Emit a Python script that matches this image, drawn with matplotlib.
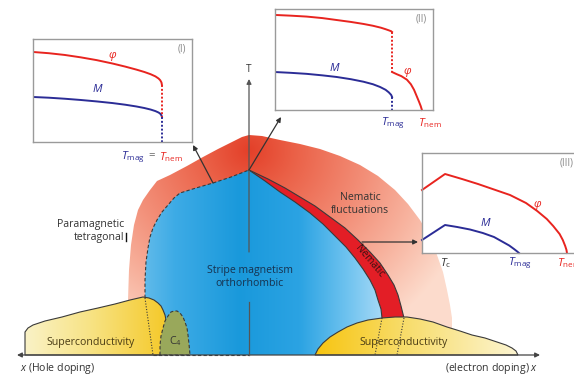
import numpy as np
import matplotlib
matplotlib.use("Agg")
import matplotlib.pyplot as plt
from matplotlib.patches import Polygon

plt.rcParams['font.family'] = ['Open Sans', 'DejaVu Sans']
plt.rcParams['mathtext.fontset'] = 'custom'
plt.rcParams['mathtext.rm'] = 'Open Sans'
plt.rcParams['mathtext.it'] = 'Open Sans:italic'

W, H = 574, 375

# ---- phase boundaries of the schematic diagram (x: doping, y: temperature, screen units) ----
fluct_x = [128, 128, 129, 131, 134, 138, 143, 150, 157, 170, 187, 203, 218, 232, 242, 249,
           262, 280, 300, 320, 340, 360, 378, 395, 408, 420, 430, 437, 443, 447, 450, 452, 452, 128]
fluct_y = [340, 300, 270, 245, 225, 210, 200, 190, 181, 175, 166, 157, 149, 142, 137, 135,
           136, 140, 144, 149, 156, 165, 176, 190, 204, 220, 237, 255, 272, 290, 305, 318, 340, 340]

mag_left_x = [153, 145, 145, 146, 148, 150, 153, 157, 162, 168, 174, 180, 196, 213, 231, 249]
mag_left_y = [355, 298, 280, 262, 248, 237, 228, 220, 212, 205, 198, 193, 188, 183, 177, 170]

mag_right_x = [249, 265, 280, 295, 310, 323, 335, 346, 355, 363, 370, 375, 378, 381, 382, 375]
mag_right_y = [170, 181, 192, 202, 213, 224, 236, 247, 258, 269, 280, 290, 300, 309, 318, 355]

nem_right_x = [249, 268, 285, 300, 315, 330, 345, 358, 370, 380, 388, 394, 398, 401, 404]
nem_right_y = [170, 179, 188, 197, 206, 217, 228, 240, 252, 263, 275, 285, 295, 306, 318]

sc_left_x = [25, 25, 28, 33, 45, 62, 80, 98, 115, 130, 143, 149, 154, 158, 161, 163, 165, 166, 165, 163, 160]
sc_left_y = [355, 332, 328, 325, 321, 317, 312, 308, 304, 300, 297, 298, 300, 303, 306, 310, 315, 320, 330, 342, 355]

c4_x = [160, 160, 161, 163, 165, 168, 171, 174, 177, 180, 183, 185, 187, 188, 189, 190]
c4_y = [355, 345, 336, 328, 321, 316, 312, 311, 311, 313, 317, 322, 328, 335, 344, 355]

sc_right_x = [315, 318, 323, 330, 338, 347, 357, 368, 382, 395, 407, 420, 433, 447, 460, 472, 485, 497, 506, 512, 516, 518]
sc_right_y = [355, 349, 343, 337, 332, 327, 323, 320, 318, 317, 317, 319, 322, 327, 331, 335, 338, 342, 345, 348, 351, 355]

sc_left_cut = ([145, 153], [298, 355])
sc_right_cut_mag = ([382, 375], [318, 355])
sc_right_cut_nem = ([404, 397], [318, 355])

# ---- order parameters in the three insets (x: temperature, y: magnitude, axes fraction) ----
in1_phi_x = [0.0, 0.10, 0.20, 0.30, 0.40, 0.50, 0.58, 0.65, 0.70, 0.74, 0.77, 0.79, 0.80, 0.808, 0.811]
in1_phi_y = [0.874, 0.862, 0.845, 0.822, 0.795, 0.762, 0.732, 0.703, 0.680, 0.658, 0.637, 0.616, 0.600, 0.578, 0.553]
in1_m_x = [0.0, 0.10, 0.20, 0.30, 0.40, 0.50, 0.58, 0.65, 0.70, 0.74, 0.77, 0.79, 0.80, 0.808, 0.811]
in1_m_y = [0.437, 0.430, 0.420, 0.408, 0.394, 0.378, 0.362, 0.345, 0.330, 0.315, 0.300, 0.286, 0.275, 0.258, 0.243]

in2_phi_x = [0.0, 0.10, 0.20, 0.30, 0.39, 0.48, 0.56, 0.62, 0.67, 0.70, 0.72, 0.735, 0.741]
in2_phi_y = [0.941, 0.934, 0.925, 0.910, 0.891, 0.872, 0.852, 0.834, 0.815, 0.800, 0.789, 0.780, 0.772]
in2_phi2_x = [0.741, 0.77, 0.80, 0.835, 0.86, 0.88, 0.899, 0.912, 0.922, 0.930]
in2_phi2_y = [0.376, 0.355, 0.335, 0.300, 0.255, 0.200, 0.129, 0.080, 0.040, 0.0]
in2_m_x = [0.0, 0.10, 0.20, 0.30, 0.39, 0.48, 0.56, 0.62, 0.665, 0.70, 0.72, 0.735, 0.741]
in2_m_y = [0.376, 0.368, 0.358, 0.343, 0.327, 0.305, 0.280, 0.255, 0.228, 0.200, 0.175, 0.150, 0.129]

in3_phi_x = [0.0, 0.144, 0.25, 0.35, 0.45, 0.55, 0.65, 0.72, 0.78, 0.82, 0.86, 0.88, 0.895, 0.903, 0.906]
in3_phi_y = [0.63, 0.79, 0.74, 0.69, 0.635, 0.58, 0.50, 0.42, 0.34, 0.27, 0.19, 0.13, 0.07, 0.03, 0.0]
in3_m_x = [0.0, 0.144, 0.22, 0.30, 0.38, 0.45, 0.506, 0.545, 0.575, 0.595, 0.606]
in3_m_y = [0.13, 0.28, 0.26, 0.235, 0.20, 0.16, 0.11, 0.075, 0.04, 0.015, 0.0]

# inset frames in screen units: left, top, right, bottom
inset_frames = {'I': (33, 39, 192, 142), 'II': (275, 9, 433, 110), 'III': (422, 153, 582, 253)}

RED = '#e8241f'
BLUE = '#2b2c96'
GRID = '#9a9a9a'
DARK = '#3a3a3a'
FS = 7.6

fig = plt.figure(figsize=(W / 100, H / 100), dpi=100)
ax = fig.add_axes([0, 0, 1, 1])
ax.set_xlim(0, W)
ax.set_ylim(H, 0)
ax.axis('off')

gx, gy = np.meshgrid(np.arange(W) + 0.5, np.arange(H) + 0.5)


def ramp(t, stops, cols):
    t = np.clip(t, stops[0], stops[-1])
    cols = np.array(cols)
    return np.stack([np.interp(t, stops, cols[:, k]) for k in range(3)], axis=-1)


def shade(poly_x, poly_y, rgb, z, edge=None, lw=0.8, ls='-'):
    patch = Polygon(np.column_stack([poly_x, poly_y]), closed=True, facecolor='none',
                    edgecolor=edge if edge else 'none', lw=lw, ls=ls, zorder=z + 0.1)
    ax.add_patch(patch)
    im = ax.imshow(rgb, extent=[0, W, H, 0], origin='upper', zorder=z, interpolation='bilinear')
    im.set_clip_path(patch)
    return patch


# nematic fluctuation halo (radial fade from the top of the dome)
r = np.hypot(gx - 249, (gy - 150) * 1.05) / 230.0
halo = ramp(r, [0.0, 0.2, 0.5, 0.75, 1.0],
            [(0.89, 0.25, 0.16), (0.92, 0.38, 0.28), (0.95, 0.55, 0.46), (0.97, 0.70, 0.62), (0.99, 0.86, 0.80)])
shade(fluct_x, fluct_y, halo, 1)

# stripe magnetic (orthorhombic) region
blue = ramp(gx, [140, 175, 240, 300, 350, 390],
            [(0.40, 0.74, 0.92), (0.24, 0.67, 0.90), (0.10, 0.60, 0.86), (0.17, 0.64, 0.89),
             (0.45, 0.77, 0.94), (0.70, 0.87, 0.97)])
mag_x = mag_left_x + mag_right_x[1:]
mag_y = mag_left_y + mag_right_y[1:]
shade(mag_x, mag_y, blue, 2)
ax.plot(mag_left_x[1:], mag_left_y[1:], color=DARK, lw=0.8, ls=(0, (3, 2)), zorder=3)
ax.plot([153, 249], [355, 355], color=DARK, lw=0.8, ls=(0, (3, 2)), zorder=3)

# nematic band
nem_x = mag_right_x[:-1] + nem_right_x[::-1]
nem_y = mag_right_y[:-1] + nem_right_y[::-1]
ax.add_patch(Polygon(np.column_stack([nem_x, nem_y]), closed=True, facecolor='#e31e26',
                     edgecolor='none', zorder=3))
ax.plot(mag_right_x[:-1], mag_right_y[:-1], color=DARK, lw=0.8, zorder=3.2)
ax.plot(nem_right_x, nem_right_y, color=DARK, lw=0.8, zorder=3.2)

# superconducting domes
yl = ramp(gx, [25, 90, 165], [(0.98, 0.95, 0.78), (0.97, 0.89, 0.52), (0.96, 0.79, 0.17)])
shade(sc_left_x, sc_left_y, yl, 4, edge=DARK, lw=0.8)
ax.plot(*sc_left_cut, color=DARK, lw=0.8, ls=(0, (1, 1.5)), zorder=4.5)

green = np.ones((H, W, 3)) * np.array([0.60, 0.66, 0.36])
shade(c4_x, c4_y, green, 4.6, edge=DARK, lw=0.8, ls=(0, (3, 2)))

yr = ramp(gx, [315, 400, 518], [(0.97, 0.77, 0.06), (0.97, 0.86, 0.40), (0.99, 0.96, 0.82)])
shade(sc_right_x, sc_right_y, yr, 4, edge=DARK, lw=0.8)
ax.plot(*sc_right_cut_mag, color=DARK, lw=0.8, ls=(0, (1, 1.5)), zorder=4.5)
ax.plot(*sc_right_cut_nem, color=DARK, lw=0.8, ls=(0, (1, 1.5)), zorder=4.5)

# doping axis and temperature axis
ax.annotate('', xy=(540, 355), xytext=(17, 355),
            arrowprops=dict(arrowstyle='<|-|>', color='#444444', lw=0.9,
                            mutation_scale=7, shrinkA=0, shrinkB=0), zorder=6)
ax.plot([249, 249], [355, 302], color='#555555', lw=0.9, zorder=6)
ax.annotate('', xy=(249, 79), xytext=(249, 252),
            arrowprops=dict(arrowstyle='-|>', color='#555555', lw=0.9,
                            mutation_scale=7, shrinkA=0, shrinkB=0), zorder=6)
ax.text(249, 70, 'T', ha='center', va='center', fontsize=7.2, color='#333333')

# arrows from points on the phase diagram to the insets
for (x0, y0), (x1, y1) in [((213, 183), (193, 145)), ((249, 170), (281, 117)), ((362, 242), (418, 242))]:
    ax.annotate('', xy=(x1, y1), xytext=(x0, y0),
                arrowprops=dict(arrowstyle='-|>', color='#333333', lw=0.9,
                                mutation_scale=7, shrinkA=0, shrinkB=0), zorder=7)

# region labels
lab = dict(fontsize=FS, color='#333333', zorder=8)
ax.text(124, 231, 'Paramagnetic\ntetragonal', ha='right', va='center', linespacing=1.2, **lab)
ax.plot([125.5, 125.5], [233, 241], color='#111111', lw=1.0, zorder=8)
ax.text(250, 277, 'Stripe magnetism\northorhombic', ha='center', va='center', linespacing=1.2,
        fontsize=FS, color='#17324f', zorder=8)
ax.text(360, 204, 'Nematic\nfluctuations', ha='center', va='center', linespacing=1.2, **lab)
ax.text(369, 261, 'Nematic', ha='center', va='center', rotation=-50, fontsize=7.2,
        color='#3a1212', zorder=8)
ax.text(91, 343, 'Superconductivity', ha='center', va='center', fontsize=FS, color='#4a3c14', zorder=8)
ax.text(404, 343, 'Superconductivity', ha='center', va='center', fontsize=FS, color='#4a3c14', zorder=8)
ax.text(175, 341, 'C$_4$', ha='center', va='center', fontsize=FS, color='#333333', zorder=8)
ax.text(20, 368, '$x$ (Hole doping)', ha='left', va='center', fontsize=FS, color='#333333')
ax.text(538, 368, '(electron doping) $x$', ha='right', va='center', fontsize=FS, color='#333333')


def inset(key):
    l, t, rr, b = inset_frames[key]
    a = fig.add_axes([l / W, 1 - b / H, (rr - l) / W, (b - t) / H])
    a.set_xlim(0, 1)
    a.set_ylim(0, 1)
    a.set_xticks([])
    a.set_yticks([])
    a.set_facecolor('white')
    for s in a.spines.values():
        s.set_color(GRID)
        s.set_linewidth(1.0)
    a.set_zorder(10)
    return a


tfs = 8.2
gfs = 8.2
# inset (I): simultaneous transition
a1 = inset('I')
a1.plot(in1_phi_x, in1_phi_y, color=RED, lw=1.4)
a1.plot(in1_m_x, in1_m_y, color=BLUE, lw=1.4)
a1.plot([in1_phi_x[-1]] * 2, [in1_phi_y[-1], in1_m_y[-1]], color=RED, lw=1.4, ls=(0, (1, 1)))
a1.plot([in1_m_x[-1]] * 2, [in1_m_y[-1], 0], color=BLUE, lw=1.4, ls=(0, (1, 1)), clip_on=False)
a1.text(0.50, 0.84, 'φ', color=RED, fontsize=gfs, style='italic', ha='center', va='center')
a1.text(0.41, 0.51, '$M$', color=BLUE, fontsize=gfs, ha='center', va='center')
a1.text(0.96, 0.90, '(I)', color='#888888', fontsize=7, ha='right', va='center')
a1.text(0.63, -0.15, '$T_{\\mathrm{mag}}$', color=BLUE, fontsize=tfs, ha='center', va='center', clip_on=False)
a1.text(0.745, -0.13, '=', color='#666666', fontsize=tfs, ha='center', va='center', clip_on=False)
a1.text(0.865, -0.15, '$T_{\\mathrm{nem}}$', color=RED, fontsize=tfs, ha='center', va='center', clip_on=False)

# inset (II): split transitions
a2 = inset('II')
a2.plot(in2_phi_x, in2_phi_y, color=RED, lw=1.4)
a2.plot([in2_phi_x[-1]] * 2, [in2_phi_y[-1], in2_phi2_y[0]], color=RED, lw=1.4, ls=(0, (1, 1)))
a2.plot(in2_phi2_x, in2_phi2_y, color=RED, lw=1.4, clip_on=False)
a2.plot(in2_m_x, in2_m_y, color=BLUE, lw=1.4)
a2.plot([in2_m_x[-1]] * 2, [in2_m_y[-1], 0], color=BLUE, lw=1.4, ls=(0, (1, 1)), clip_on=False)
a2.text(0.84, 0.38, 'φ', color=RED, fontsize=gfs, style='italic', ha='center', va='center')
a2.text(0.38, 0.42, '$M$', color=BLUE, fontsize=gfs, ha='center', va='center')
a2.text(0.96, 0.90, '(II)', color='#888888', fontsize=7, ha='right', va='center')
a2.text(0.745, -0.13, '$T_{\\mathrm{mag}}$', color=BLUE, fontsize=tfs, ha='center', va='center', clip_on=False)
a2.text(0.98, -0.13, '$T_{\\mathrm{nem}}$', color=RED, fontsize=tfs, ha='center', va='center', clip_on=False)

# inset (III): superconductivity suppresses both orders below T_c
a3 = inset('III')
a3.plot(in3_phi_x, in3_phi_y, color=RED, lw=1.4, clip_on=False)
a3.plot(in3_m_x, in3_m_y, color=BLUE, lw=1.4, clip_on=False)
a3.text(0.72, 0.48, 'φ', color=RED, fontsize=gfs, style='italic', ha='center', va='center')
a3.text(0.40, 0.30, '$M$', color=BLUE, fontsize=gfs, ha='center', va='center')
a3.text(0.945, 0.90, '(III)', color='#888888', fontsize=7, ha='right', va='center')
a3.text(0.15, -0.10, '$T_{\\mathrm{c}}$', color='#333333', fontsize=tfs, ha='center', va='center', clip_on=False)
a3.text(0.61, -0.10, '$T_{\\mathrm{mag}}$', color=BLUE, fontsize=tfs, ha='center', va='center', clip_on=False)
a3.text(0.92, -0.10, '$T_{\\mathrm{nem}}$', color=RED, fontsize=tfs, ha='center', va='center', clip_on=False)

fig.savefig('out.png', dpi=100)
